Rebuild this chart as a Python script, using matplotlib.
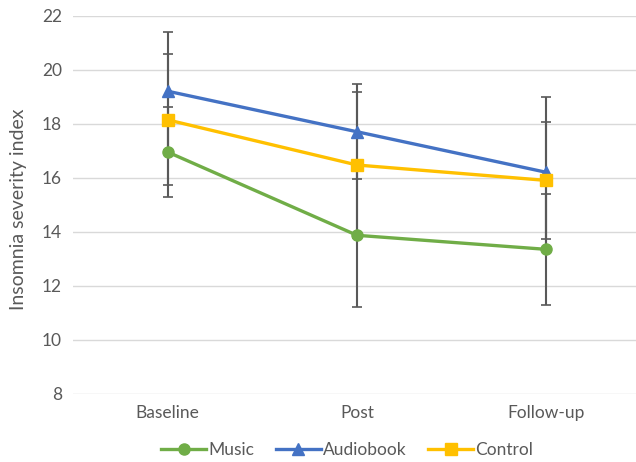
import matplotlib.pyplot as plt
import numpy as np

plt.rcParams['font.family'] = ['Lato', 'DejaVu Sans']

timepoints = ['Baseline', 'Post', 'Follow-up']
music = [16.95, 13.87, 13.35]
music_err = [1.65, 2.67, 2.05]
audiobook = [19.2, 17.7, 16.2]
audiobook_err = [2.18, 1.75, 2.8]
control = [18.14, 16.47, 15.9]
control_err = [2.42, 2.71, 2.16]

series = [
    ('Music', music, music_err, '#70AD47', 'o'),
    ('Audiobook', audiobook, audiobook_err, '#4472C4', '^'),
    ('Control', control, control_err, '#FFC000', 's'),
]

fig = plt.figure(figsize=(6.36, 4.62), dpi=100)
ax = fig.add_axes([73 / 636, 68 / 462, 568 / 636, 378.5 / 462])

x = np.arange(len(timepoints))
for name, vals, err, col, mk in series:
    ax.errorbar(x, vals, yerr=err, fmt='none', ecolor='#595959', elinewidth=1.5,
                capsize=3.5, capthick=1.2, zorder=2)
for name, vals, err, col, mk in series:
    ax.plot(x, vals, color=col, lw=2.4, marker=mk, markersize=9 if mk == '^' else 8,
            label=name, zorder=3)

ax.set_xlim(-0.5, 2.5)
ax.set_ylim(8, 22)
ax.set_yticks(range(8, 23, 2))
ax.set_xticks(x)
ax.set_xticklabels(timepoints)
ax.yaxis.grid(True, color='#D9D9D9', lw=1)
ax.set_axisbelow(True)
for s in ax.spines.values():
    s.set_visible(False)
ax.tick_params(length=0, labelsize=12.5, colors='#595959', pad=8)
ax.tick_params(axis='x', pad=8)
fig.text(19 / 636, (462 - 209) / 462, 'Insomnia severity index', rotation=90,
         ha='center', va='center', fontsize=14, color='#595959')

ax.legend(loc='center', bbox_to_anchor=(347 / 636, 12 / 462), bbox_transform=fig.transFigure,
          ncol=3, frameon=False, fontsize=12.5, handlelength=2.6, handletextpad=0.1,
          columnspacing=1.25, labelcolor='#595959')

fig.savefig('out.png', dpi=100)
